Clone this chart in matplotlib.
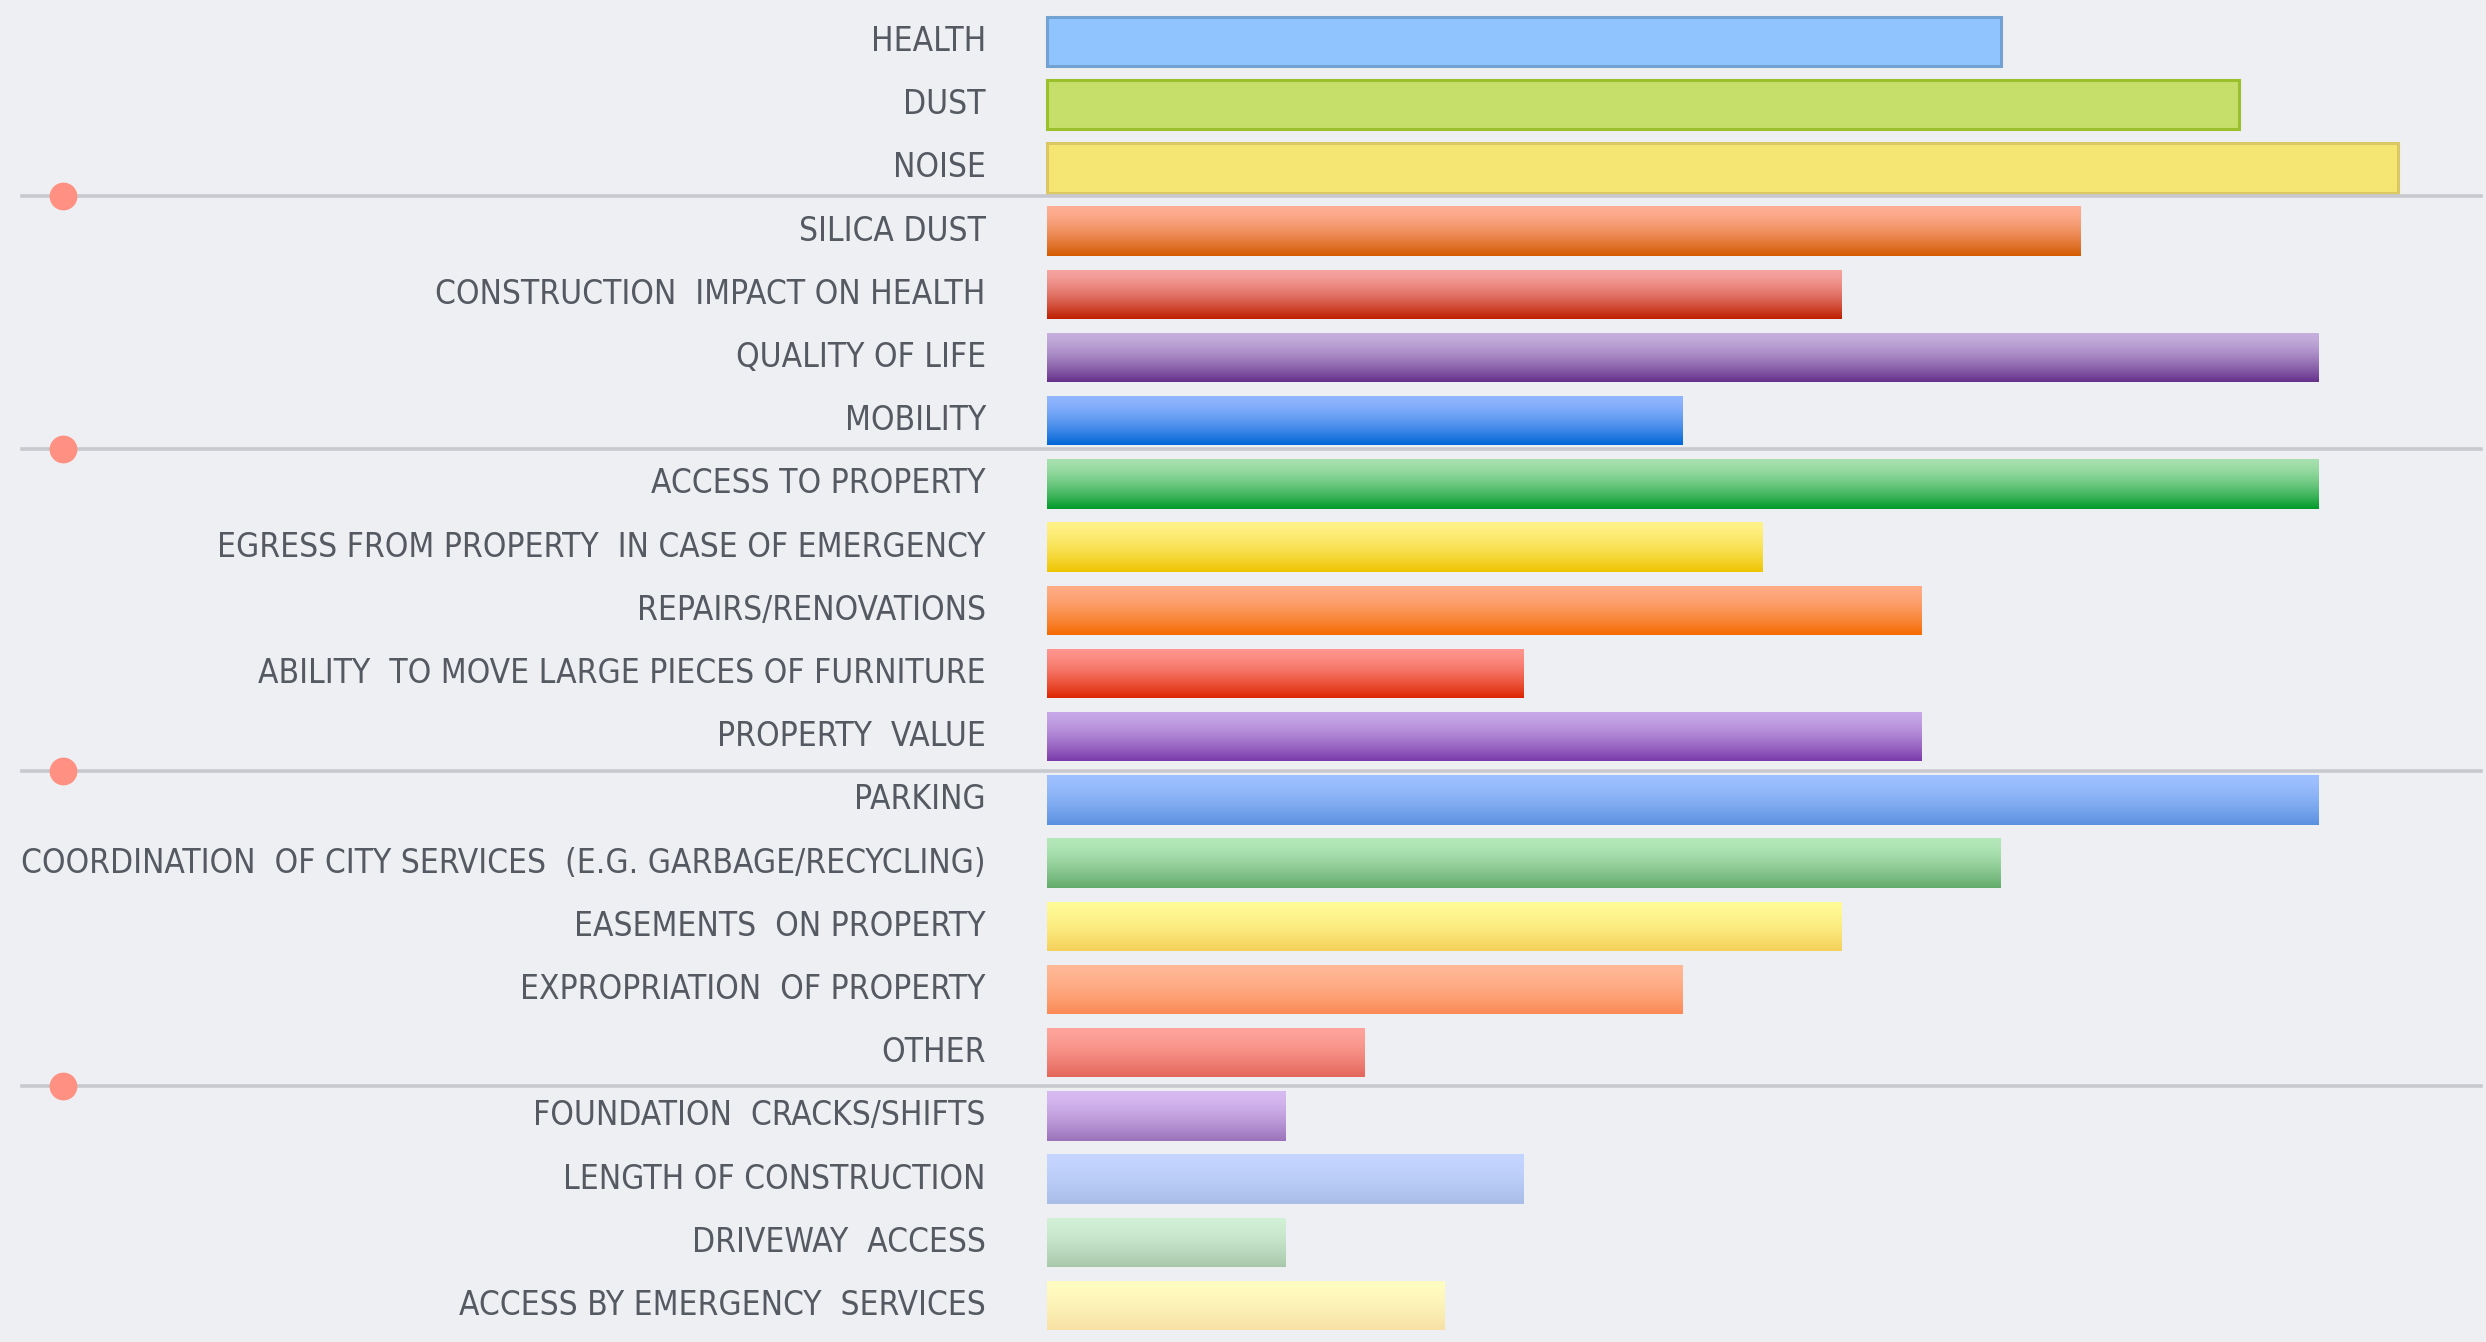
import os
import numpy as np
import matplotlib.pyplot as plt
import matplotlib.font_manager as fm
from matplotlib.colors import LinearSegmentedColormap

# Data
categories = [
    'HEALTH', 'DUST', 'NOISE',
    'SILICA DUST', 'CONSTRUCTION  IMPACT ON HEALTH', 'QUALITY OF LIFE', 'MOBILITY',
    'ACCESS TO PROPERTY', 'EGRESS FROM PROPERTY  IN CASE OF EMERGENCY', 'REPAIRS/RENOVATIONS',
    'ABILITY  TO MOVE LARGE PIECES OF FURNITURE', 'PROPERTY  VALUE',
    'PARKING', 'COORDINATION  OF CITY SERVICES  (E.G. GARBAGE/RECYCLING)', 'EASEMENTS  ON PROPERTY',
    'EXPROPRIATION  OF PROPERTY', 'OTHER',
    'FOUNDATION  CRACKS/SHIFTS', 'LENGTH OF CONSTRUCTION', 'DRIVEWAY  ACCESS',
    'ACCESS BY EMERGENCY  SERVICES',
]
values = [12, 15, 17, 13, 10, 16, 8, 16, 9, 11, 6, 11, 16, 12, 10, 8, 4, 3, 6, 3, 5]
group_ends = [2, 6, 11, 16]  # last row of each group before a divider

# first three bars are flat with an outline
flat_fill = ['#90C4FF', '#C5DF6A', '#F5E673']
flat_edge = ['#72A2D2', '#9CC02C', '#DAC865']

# gradient bars: (top colour, bottom colour)
grad_colors = [
    ('#FFAE94', '#D45A00'), ('#F6A3A0', '#BE1E00'), ('#C6B0DE', '#64308A'),
    ('#92B6FF', '#0066D6'), ('#A6E0AE', '#009A2A'), ('#FFF286', '#EEC400'),
    ('#FFAC86', '#F56A00'), ('#FF958E', '#DE2400'), ('#C8A8E8', '#7A3AAA'),
    ('#9EC0FF', '#5A90E0'), ('#B4E8BA', '#62AA6A'), ('#FFFB96', '#F5D05A'),
    ('#FFB896', '#FC8A56'), ('#FFA49C', '#E4665A'), ('#D8BAF2', '#9A72BA'),
    ('#C4D6FF', '#A8BCE8'), ('#D2F0D6', '#A8C8AC'), ('#FFFCC2', '#F8E0A4'),
]

bg = '#EEEFF3'
text_col = '#555961'
line_col = '#C8C9CE'
dot_col = '#FF9082'


def pick_font():
    # the labels use a narrow sans; take a condensed face if one is installed
    bad = ('Bold', 'Italic', 'Oblique', 'Light', 'Thin', 'Black', 'Medium', 'Semi', 'Extra', 'Ultra')
    prefs = ['Liberation Sans Narrow', 'Noto Sans', 'Open Sans', 'Roboto', 'DejaVu Sans']
    found = {}
    for f in fm.fontManager.ttflist:
        base = os.path.basename(f.fname)
        if ('Narrow' in base or 'Condensed' in base) and not any(k in base for k in bad):
            found.setdefault(f.name, f.fname)
    for p in prefs:
        if p in found:
            return fm.FontProperties(fname=found[p])
    return fm.FontProperties(family='Open Sans')


fp = pick_font()

fig = plt.figure(figsize=(24.86, 13.42), dpi=100)
fig.patch.set_facecolor(bg)
ax = fig.add_axes([0, 0, 1, 1])
ax.set_facecolor(bg)
ax.axis('off')
ax.set_xlim(-13.175, 18.107)
ax.set_ylim(20.578, -0.657)

y = np.arange(len(categories))
h = 0.78

bars = ax.barh(y, values, height=h, linewidth=0)

ramp = (np.linspace(0, 1, 256) ** 1.5).reshape(-1, 1)
for i, b in enumerate(bars):
    if i < 3:
        b.set_facecolor(flat_fill[i])
        b.set_edgecolor(flat_edge[i])
        b.set_linewidth(2.2)
    else:
        top, bot = grad_colors[i - 3]
        cmap = LinearSegmentedColormap.from_list('g%d' % i, [top, bot])
        b.set_facecolor('none')
        im = ax.imshow(ramp, cmap=cmap, aspect='auto', interpolation='bilinear',
                       extent=(0, values[i], y[i] + h / 2, y[i] - h / 2), zorder=2)
        im.set_clip_path(b)

labels = []
for yi, lab in zip(y, categories):
    labels.append(ax.text(-0.77, yi, lab, ha='right', va='center', fontproperties=fp,
                          fontsize=28, color=text_col))

# fit the font size so the longest label spans like in the source
fig.canvas.draw()
rend = fig.canvas.get_renderer()
longest = max(labels, key=lambda t: t.get_window_extent(rend).width)
w = longest.get_window_extent(rend).width
size = min(28 * 962 / w, 29)
for t in labels:
    t.set_fontsize(size)

# group dividers with dots (dividers sit a little off the row midpoints)
nudge = [-0.05, -0.05, 0.05, 0.03]
for e, d in zip(group_ends, nudge):
    yl = e + 0.5 + d
    ax.axhline(yl, xmin=0.0087, xmax=0.998, color=line_col, linewidth=2.6, zorder=1)
    ax.plot(-12.38, yl, 'o', color=dot_col, markersize=20, markeredgewidth=0, zorder=3)

ax.set_xlim(-13.175, 18.107)
ax.set_ylim(20.578, -0.657)

plt.savefig('out.png', dpi=100, facecolor=bg)
plt.close()
